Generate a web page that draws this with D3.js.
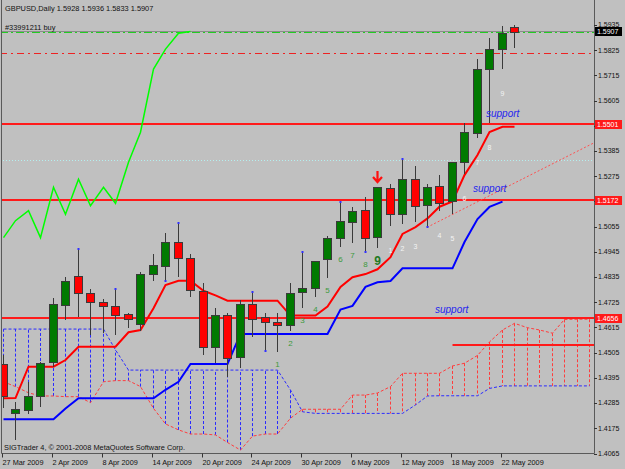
<!DOCTYPE html>
<html>
<head>
<meta charset="utf-8">
<script src="https://cdnjs.cloudflare.com/ajax/libs/d3/7.8.5/d3.min.js"></script>
<style>
  html, body { margin: 0; padding: 0; background: #c0c0c0; }
  svg { display: block; }
  text { font-family: "Liberation Sans", Arial, sans-serif; }
</style>
</head>
<body>
<div id="container"></div>
<script>

// OHLC de cada barra (índice 0 = 27 Mar 2009)
const open  = [1.4456,1.4242,1.4258,1.4317,1.4466,1.4716,1.4840,1.4767,1.4726,1.4710,1.4672,1.4630,1.4848,1.4886,1.4989,1.4917,1.4774,1.4531,1.4669,1.4487,1.4717,1.4659,1.4640,1.4626,1.4768,1.4786,1.4917,1.5008,1.5077,1.5128,1.5008,1.5222,1.5109,1.5262,1.5149,1.5232,1.5164,1.5338,1.5465,1.5742,1.5830,1.5928]
const high  = [1.4495,1.4291,1.4376,1.4464,1.4745,1.4837,1.4956,1.4783,1.4739,1.4782,1.4679,1.4858,1.4934,1.5026,1.5070,1.4936,1.4808,1.4700,1.4679,1.4735,1.4771,1.4679,1.4679,1.4808,1.4943,1.4905,1.5014,1.5161,1.5142,1.5183,1.5228,1.5241,1.5349,1.5321,1.5241,1.5280,1.5337,1.5509,1.5785,1.5877,1.5931,1.5936]
const low   = [1.4264,1.4124,1.4237,1.4269,1.4444,1.4648,1.4662,1.4582,1.4590,1.4582,1.4611,1.4601,1.4819,1.4819,1.4837,1.4749,1.4495,1.4459,1.4398,1.4437,1.4575,1.4514,1.4509,1.4601,1.4699,1.4747,1.4830,1.4965,1.4985,1.4943,1.4960,1.5058,1.5067,1.5077,1.5052,1.5125,1.5109,1.5285,1.5441,1.5506,1.5742,1.5833]
const close = [1.4316,1.4259,1.4317,1.4459,1.4717,1.4819,1.4764,1.4727,1.4709,1.4672,1.4652,1.4847,1.4886,1.4989,1.4919,1.4778,1.4531,1.4669,1.4483,1.4717,1.4651,1.4638,1.4628,1.4764,1.4786,1.4905,1.5007,1.5081,1.5125,1.5007,1.5227,1.5109,1.5262,1.5146,1.5227,1.5157,1.5336,1.5467,1.5743,1.5830,1.5899,1.5907]

// Ichimoku
const tenkan = [1.4306,1.4307,1.4444,1.4444,1.4444,1.4473,1.4531,1.4531,1.4531,1.4531,1.4594,1.4604,1.4699,1.4800,1.4819,1.4819,1.4775,1.4755,1.4732,1.4732,1.4732,1.4732,1.4732,1.4667,1.4667,1.4667,1.4706,1.4792,1.4834,1.4848,1.4869,1.4922,1.5023,1.5053,1.5091,1.5142,1.5165,1.5280,1.5368,1.5468,1.5491,1.5491]
const kijun  = [1.4214,1.4214,1.4214,1.4214,1.4214,1.4261,1.4306,1.4306,1.4306,1.4306,1.4306,1.4306,1.4306,1.4343,1.4378,1.4456,1.4456,1.4456,1.4456,1.4587,1.4587,1.4587,1.4587,1.4587,1.4587,1.4587,1.4587,1.4693,1.4709,1.4792,1.4812,1.4818,1.4873,1.4873,1.4873,1.4873,1.4873,1.4988,1.5088,1.5141,1.5164]
const chikou = [1.5007,1.5081,1.5125,1.5007,1.5227,1.5109,1.5262,1.5146,1.5227,1.5157,1.5336,1.5467,1.5743,1.5830,1.5899,1.5907]
const spanA  = [1.4378,1.4357,1.4330,1.4316,1.4316,1.4313,1.4313,1.4287,1.4378,1.4383,1.4383,1.4357,1.4262,1.4194,1.4168,1.4150,1.4150,1.4146,1.4113,1.4080,1.4141,1.4150,1.4150,1.4219,1.4258,1.4258,1.4258,1.4258,1.4320,1.4320,1.4329,1.4357,1.4415,1.4415,1.4415,1.4415,1.4447,1.4459,1.4493,1.4552,1.4604,1.4633,1.4614,1.4604,1.4590,1.4650,1.4651,1.4651]
const spanB  = [1.4608,1.4608,1.4608,1.4608,1.4608,1.4608,1.4608,1.4608,1.4608,1.4517,1.4429,1.4429,1.4429,1.4429,1.4429,1.4429,1.4429,1.4429,1.4429,1.4429,1.4429,1.4429,1.4429,1.4342,1.4247,1.4240,1.4240,1.4240,1.4240,1.4240,1.4240,1.4240,1.4240,1.4277,1.4316,1.4317,1.4317,1.4317,1.4317,1.4349,1.4360,1.4360,1.4360,1.4360,1.4360,1.4360,1.4360,1.4360]

// contagens (TD) e fractais
const buyCountBars  = [22,23,24,25,26,27,28,29,30]
const sellCountBars = [31,32,33,35,36,37,38,39,40]
const fractalUp   = [6,9,14,20,24,27,32]
const fractalDown = [13,21,29,34]
const arrowBar = 30

// eixos
const dateTickBars = [0,4,8,12,16,20,24,28,32,36,40]
const dateLabels = ["27 Mar 2009","2 Apr 2009","8 Apr 2009","14 Apr 2009","20 Apr 2009","24 Apr 2009","30 Apr 2009","6 May 2009","12 May 2009","18 May 2009","22 May 2009"]
const priceTicks = [1.5935,1.5825,1.5715,1.5605,1.5495,1.5385,1.5275,1.5165,1.5055,1.4945,1.4835,1.4725,1.4615,1.4505,1.4395,1.4285,1.4175,1.4065]

// linhas horizontais / objectos
const supportLevels = [1.5501, 1.5172, 1.4656]
const bidPrice = 1.5907
const orderPrice = 1.5905
const orderTarget = 1.5814
const cyanLevel = 1.5346
const shortLevel = { fromBar: 36, price: 1.4538 }
const trendPts = [{ bar: 34, price: 1.5052 }, { bar: 47, price: 1.5410 }]
const supportNotes = [
  { bar: 38.73, price: 1.5549 },
  { bar: 37.69, price: 1.5222 },
  { bar: 34.64, price: 1.4696 }
]

const width = 625
const height = 469
const plotRight = 594
const plotBottom = 453.5

const x = d3.scaleLinear().domain([0, 47]).range([3, 3 + 47 * 12.47])
const y = d3.scaleLinear().domain([1.4065, 1.5935]).range([453.5, 25])
const px = (i) => Math.round(x(i)) + 0.5
const py = (p) => Math.round(y(p)) + 0.5

const svg = d3.create("svg")
  .attr("width", width)
  .attr("height", height)
  .attr("viewBox", [0, 0, width, height])

svg.append("rect").attr("width", width).attr("height", height).attr("fill", "#c0c0c0")

svg.append("clipPath").attr("id", "clip")
  .append("rect").attr("x", 2).attr("y", 0).attr("width", plotRight - 2).attr("height", plotBottom)

const plot = svg.append("g").attr("clip-path", "url(#clip)")

/* nuvem (kumo) com tracejado vertical */
const kumo = plot.append("g").attr("class", "kumo")
kumo.selectAll("line")
  .data(spanA.map((a, i) => ({ i, a, b: spanB[i] })))
  .join("line")
  .attr("x1", d => px(d.i)).attr("x2", d => px(d.i))
  .attr("y1", d => y(d.a)).attr("y2", d => y(d.b))
  .attr("stroke", d => d.a > d.b ? "#ff3c3c" : "#2b2bff")
  .attr("stroke-width", 1)
  .attr("stroke-dasharray", "3,2")

const lineOf = (arr) => d3.line().x((d, i) => px(i)).y(d => y(d))(arr)

kumo.append("path").attr("d", lineOf(spanB))
  .attr("fill", "none").attr("stroke", "#2b2bff").attr("stroke-dasharray", "3,2")
kumo.append("path").attr("d", lineOf(spanA))
  .attr("fill", "none").attr("stroke", "#ff3c3c").attr("stroke-dasharray", "3,2")

/* linhas horizontais */
const hline = (p, color, w, dash, x1) => {
  plot.append("line")
    .attr("x1", x1 == null ? 0 : x1).attr("x2", plotRight)
    .attr("y1", w % 2 ? py(p) : Math.round(y(p))).attr("y2", w % 2 ? py(p) : Math.round(y(p)))
    .attr("stroke", color).attr("stroke-width", w)
    .attr("stroke-dasharray", dash)
}
hline(cyanLevel, "#b4f0f0", 1, "1,2")
hline(bidPrice, "#8c8c8c", 1, null)
hline(orderPrice, "#22cc22", 1, "8,3,2,3")
hline(orderTarget, "#ee2222", 1, "7,4,2,4")
supportLevels.forEach(p => hline(p, "#ff1a1a", 2, null))
hline(shortLevel.price, "#ff1a1a", 2, null, px(shortLevel.fromBar))

/* linha de tendência (raio) */
const slope = (trendPts[1].price - trendPts[0].price) / (trendPts[1].bar - trendPts[0].bar)
const endBar = x.invert(plotRight)
plot.append("line")
  .attr("x1", x(trendPts[0].bar)).attr("y1", y(trendPts[0].price))
  .attr("x2", x(endBar)).attr("y2", y(trendPts[0].price + slope * (endBar - trendPts[0].bar)))
  .attr("stroke", "#ff5050").attr("stroke-width", 1).attr("stroke-dasharray", "2,2")

/* chikou span */
plot.append("path").attr("d", lineOf(chikou))
  .attr("fill", "none").attr("stroke", "#00ff00").attr("stroke-width", 1.5)

/* kijun e tenkan */
plot.append("path").attr("d", lineOf(kijun))
  .attr("fill", "none").attr("stroke", "#0000ff").attr("stroke-width", 2)
plot.append("path").attr("d", lineOf(tenkan))
  .attr("fill", "none").attr("stroke", "#ff0000").attr("stroke-width", 2)

/* velas */
const bars = open.map((o, i) => ({ i, o, h: high[i], l: low[i], c: close[i] }))
const candles = plot.append("g").attr("class", "candles")
candles.selectAll("line")
  .data(bars)
  .join("line")
  .attr("x1", d => px(d.i)).attr("x2", d => px(d.i))
  .attr("y1", d => Math.round(y(d.h))).attr("y2", d => Math.round(y(d.l)))
  .attr("stroke", "#3a3a3a")
candles.selectAll("rect")
  .data(bars)
  .join("rect")
  .attr("x", d => px(d.i) - 4)
  .attr("y", d => Math.round(y(Math.max(d.o, d.c))) + 0.5)
  .attr("width", 8)
  .attr("height", d => Math.max(2, Math.round(Math.abs(y(d.o) - y(d.c)))))
  .attr("fill", d => d.c >= d.o ? "#007a00" : "#ff0000")
  .attr("stroke", "#3a3a3a")

/* fractais (pontos azuis) */
plot.selectAll("rect.fr")
  .data(fractalUp.map(i => ({ i, p: high[i] })).concat(fractalDown.map(i => ({ i, p: low[i] }))))
  .join("rect")
  .attr("class", "fr")
  .attr("x", d => px(d.i) - 1).attr("y", d => Math.round(y(d.p)) - 1)
  .attr("width", 2).attr("height", 2)
  .attr("fill", "#3030ff")

/* contagens */
plot.selectAll("text.buy")
  .data(buyCountBars)
  .join("text")
  .attr("class", "buy")
  .attr("x", i => px(i))
  .attr("y", (i, k) => y(low[i]) + (k === 8 ? 17 : 15))
  .attr("text-anchor", "middle")
  .attr("fill", (i, k) => k === 8 ? "#1f7a1f" : "#3c9a3c")
  .style("font-size", (i, k) => k === 8 ? "12px" : "8px")
  .style("font-weight", (i, k) => k === 8 ? "bold" : "normal")
  .text((i, k) => k + 1)

plot.selectAll("text.sell")
  .data(sellCountBars)
  .join("text")
  .attr("class", "sell")
  .attr("x", i => px(i))
  .attr("y", i => y(low[i]) + 27)
  .attr("text-anchor", "middle")
  .attr("fill", "#f4f4f4")
  .style("font-size", "7px")
  .text((i, k) => k + 1)

/* seta vermelha */
const ax = px(arrowBar)
const ay = Math.round(y(high[arrowBar])) - 16
plot.append("path")
  .attr("d", `M${ax},${ay} V${ay + 10} M${ax - 4.5},${ay + 6} L${ax},${ay + 11} L${ax + 4.5},${ay + 6}`)
  .attr("fill", "none").attr("stroke", "#ff1010").attr("stroke-width", 2.2)

/* notas "support" */
plot.selectAll("text.note")
  .data(supportNotes)
  .join("text")
  .attr("class", "note")
  .attr("x", d => x(d.bar)).attr("y", d => y(d.price) + 4)
  .attr("fill", "#2424ee")
  .style("font-size", "10px")
  .style("font-style", "italic")
  .text("support")

/* moldura */
svg.append("path")
  .attr("d", `M1.5,0 V${plotBottom} H${plotRight + 0.5} V0`)
  .attr("fill", "none").attr("stroke", "#5a5a5a")

/* eixo de preços */
const yAxis = svg.append("g").attr("class", "yaxis")
yAxis.selectAll("line")
  .data(priceTicks).join("line")
  .attr("x1", plotRight).attr("x2", plotRight + 3)
  .attr("y1", d => py(d)).attr("y2", d => py(d))
  .attr("stroke", "#333")
yAxis.selectAll("text")
  .data(priceTicks).join("text")
  .attr("x", 598).attr("y", d => y(d) + 2.3)
  .attr("fill", "#111")
  .style("font-size", "7px")
  .text(d => d.toFixed(4))

const tag = (p, bg) => {
  const g = svg.append("g")
  g.append("rect").attr("x", 595).attr("y", Math.round(y(p)) - 4).attr("width", 27).attr("height", 9).attr("fill", bg)
  g.append("text").attr("x", 597).attr("y", Math.round(y(p)) + 3)
    .attr("fill", "#fff").style("font-size", "7px").text(p.toFixed(4))
}
supportLevels.forEach(p => tag(p, "#ff1a1a"))
tag(bidPrice, "#000")

/* eixo de datas */
const xAxis = svg.append("g").attr("class", "xaxis")
xAxis.selectAll("line")
  .data(dateTickBars).join("line")
  .attr("x1", i => px(i) - 1).attr("x2", i => px(i) - 1)
  .attr("y1", plotBottom).attr("y2", plotBottom + 4)
  .attr("stroke", "#333")
xAxis.selectAll("text")
  .data(dateTickBars).join("text")
  .attr("x", i => px(i) - 1).attr("y", 465)
  .attr("fill", "#111")
  .style("font-size", "7.3px")
  .text((i, k) => dateLabels[k])

/* textos */
svg.append("text").attr("x", 5).attr("y", 11).attr("fill", "#111").style("font-size", "7.4px")
  .text("GBPUSD,Daily  1.5928 1.5936 1.5833 1.5907")
svg.append("text").attr("x", 5).attr("y", 30).attr("fill", "#111").style("font-size", "7.4px")
  .text("#33991211 buy")
svg.append("text").attr("x", 4).attr("y", 450).attr("fill", "#111").style("font-size", "7.4px")
  .text("SIGTrader 4, © 2001-2008 MetaQuotes Software Corp.")

container.append(svg.node())
</script>
</body>
</html>
